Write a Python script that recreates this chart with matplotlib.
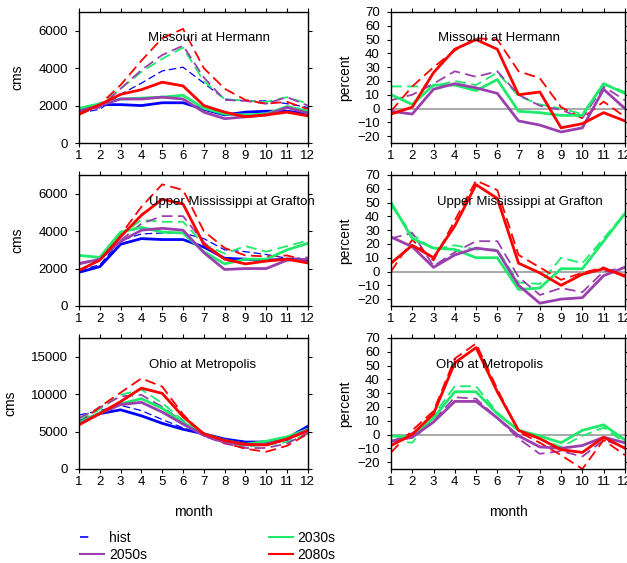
import matplotlib.pyplot as plt
from matplotlib.lines import Line2D

plt.rcParams['font.family'] = ['Liberation Sans', 'DejaVu Sans']
plt.rcParams['font.size'] = 10

months = list(range(1, 13))
periods = ['hist', '2030s', '2050s', '2080s']
colors = {'hist': '#0000ff', '2030s': '#1eeb6b', '2050s': '#9b3fae', '2080s': '#ff0000'}

# Missouri at Hermann (cms) - solid / dashed
mo_hist = [1700, 2050, 2050, 2000, 2150, 2150, 1800, 1500, 1650, 1700, 1700, 1550]
mo_hist_d = [1600, 1800, 2600, 3200, 3850, 4050, 3200, 2350, 2250, 2250, 2100, 1900]
mo_2030 = [1850, 2100, 2350, 2400, 2450, 2550, 1850, 1550, 1500, 1550, 1950, 1700]
mo_2030_d = [1700, 2000, 2900, 3800, 4500, 5100, 3300, 2350, 2250, 2200, 2450, 2100]
mo_2050 = [1700, 2000, 2350, 2350, 2450, 2350, 1650, 1300, 1400, 1500, 1900, 1600]
mo_2050_d = [1600, 1900, 2900, 3900, 4700, 5200, 3500, 2300, 2250, 2100, 2450, 2000]
mo_2080 = [1550, 2050, 2600, 2850, 3250, 3050, 2000, 1650, 1400, 1500, 1650, 1450]
mo_2080_d = [1500, 2050, 3100, 4400, 5600, 6100, 4000, 2900, 2300, 2100, 2200, 1800]

# Missouri at Hermann (percent change)
mo_p2030 = [10, 3, 17, 17, 13, 21, -2, -3, -5, -5, 18, 11]
mo_p2030_d = [16, 16, 16, 20, 17, 26, 9, 3, 0, -4, 18, 12]
mo_p2050 = [-2, -4, 14, 18, 15, 11, -9, -12, -17, -14, 14, 0]
mo_p2050_d = [6, 10, 18, 27, 23, 27, 10, 2, -1, -7, 16, 6]
mo_p2080 = [-4, 1, 26, 43, 50, 43, 10, 12, -14, -11, -3, -9]
mo_p2080_d = [-2, 16, 30, 42, 51, 50, 27, 22, 1, -7, 5, -6]

# Upper Mississippi at Grafton (cms)
um_hist = [1800, 2100, 3300, 3600, 3550, 3550, 3150, 2550, 2500, 2450, 2500, 2450]
um_hist_d = [1900, 2200, 3500, 3850, 3900, 3900, 3600, 3000, 2900, 2750, 2550, 2500]
um_2030 = [2700, 2600, 3950, 4200, 3950, 3900, 2900, 2250, 2500, 2500, 3000, 3350]
um_2030_d = [2700, 2600, 3800, 4600, 4500, 4500, 3300, 2800, 3200, 2900, 3200, 3500]
um_2050 = [2250, 2500, 3450, 4050, 4150, 4050, 2850, 1950, 2000, 2000, 2450, 2500]
um_2050_d = [2300, 2500, 3500, 4400, 4800, 4800, 3400, 2500, 2500, 2400, 2500, 2600]
um_2080 = [1900, 2450, 3700, 4850, 5700, 5450, 3300, 2500, 2250, 2400, 2500, 2300]
um_2080_d = [1850, 2500, 3800, 5300, 6500, 6200, 4000, 3100, 2700, 2650, 2700, 2400]

# Upper Mississippi at Grafton (percent change)
um_p2030 = [50, 24, 17, 16, 10, 10, -13, -12, 2, 2, 22, 42]
um_p2030_d = [48, 27, 16, 19, 16, 16, -8, -9, 10, 6, 24, 42]
um_p2050 = [25, 18, 3, 12, 17, 15, -10, -23, -20, -19, -3, 3]
um_p2050_d = [24, 28, 4, 14, 22, 22, -4, -17, -12, -15, 0, 3]
um_p2080 = [6, 19, 10, 33, 63, 53, 6, -1, -10, -2, 2, -3]
um_p2080_d = [0, 23, 8, 37, 66, 59, 12, 3, -6, -1, 3, -4]

# Ohio at Metropolis (cms)
oh_hist = [6300, 7400, 7900, 7100, 6100, 5300, 4700, 4000, 3600, 3600, 4100, 5700]
oh_hist_d = [7200, 7800, 8500, 7800, 6600, 5500, 4600, 3800, 3400, 3300, 3800, 5300]
oh_2030 = [6200, 7500, 8700, 9400, 8100, 6200, 4700, 3800, 3300, 3700, 4300, 5300]
oh_2030_d = [6500, 8000, 9900, 10600, 8800, 6500, 4700, 3700, 3000, 3200, 3600, 4700]
oh_2050 = [6000, 7400, 8600, 8900, 7600, 6000, 4500, 3600, 3200, 3300, 4000, 5200]
oh_2050_d = [6800, 8200, 9700, 9900, 8300, 6300, 4400, 3400, 2800, 2800, 3400, 4800]
oh_2080 = [5900, 7400, 9000, 10800, 10100, 7000, 4700, 3800, 3300, 3200, 4000, 5100]
oh_2080_d = [6100, 8300, 10200, 12100, 11000, 7300, 4500, 3500, 2700, 2300, 3100, 4700]

# Ohio at Metropolis (percent change)
oh_p2030 = [-1, -2, 12, 31, 31, 15, 3, -1, -6, 3, 7, -4]
oh_p2030_d = [-4, -6, 14, 35, 35, 16, 3, -3, -9, -1, 5, -6]
oh_p2050 = [-5, -2, 9, 24, 24, 12, -1, -9, -10, -8, -2, -6]
oh_p2050_d = [-5, 1, 10, 27, 26, 12, -3, -14, -12, -16, -4, -9]
oh_p2080 = [-8, 0, 15, 52, 63, 31, 3, -3, -11, -13, -2, -10]
oh_p2080_d = [-13, 3, 17, 55, 66, 33, 2, -6, -15, -25, -4, -15]

titles = ['Missouri at Hermann', 'Upper Mississippi at Grafton', 'Ohio at Metropolis']

cms_panels = [
    {'hist': (mo_hist, mo_hist_d), '2030s': (mo_2030, mo_2030_d),
     '2050s': (mo_2050, mo_2050_d), '2080s': (mo_2080, mo_2080_d)},
    {'hist': (um_hist, um_hist_d), '2030s': (um_2030, um_2030_d),
     '2050s': (um_2050, um_2050_d), '2080s': (um_2080, um_2080_d)},
    {'hist': (oh_hist, oh_hist_d), '2030s': (oh_2030, oh_2030_d),
     '2050s': (oh_2050, oh_2050_d), '2080s': (oh_2080, oh_2080_d)},
]
pct_panels = [
    {'2030s': (mo_p2030, mo_p2030_d), '2050s': (mo_p2050, mo_p2050_d), '2080s': (mo_p2080, mo_p2080_d)},
    {'2030s': (um_p2030, um_p2030_d), '2050s': (um_p2050, um_p2050_d), '2080s': (um_p2080, um_p2080_d)},
    {'2030s': (oh_p2030, oh_p2030_d), '2050s': (oh_p2050, oh_p2050_d), '2080s': (oh_p2080, oh_p2080_d)},
]
cms_ylim = [(0, 7000), (0, 7000), (0, 17500)]
cms_ticks = [[0, 2000, 4000, 6000], [0, 2000, 4000, 6000], [0, 5000, 10000, 15000]]
title_pos_left = [(0.57, 0.80), (0.67, 0.79), (0.54, 0.79)]
title_pos_right = [(0.46, 0.80), (0.55, 0.79), (0.42, 0.79)]

fig = plt.figure(figsize=(6.27, 5.63), dpi=100)
row_y = [0.746, 0.4565, 0.167]
row_h = 0.2327


def style_axis(ax):
    ax.set_xlim(1, 12)
    ax.set_xticks(months)
    ax.tick_params(direction='out', length=3, width=0.8, top=True, right=True,
                   labelsize=9.5)
    ax.tick_params(axis='x', pad=2)
    ax.tick_params(axis='y', pad=5)
    for s in ax.spines.values():
        s.set_linewidth(1.0)


for i in range(3):
    axl = fig.add_axes([0.126, row_y[i], 0.365, row_h])
    for p in periods:
        solid, dashed = cms_panels[i][p]
        dlw = 0.9 if p == 'hist' else 1.3
        axl.plot(months, dashed, color=colors[p], lw=dlw, linestyle=(0, (6, 3)))
    for p in periods:
        solid, dashed = cms_panels[i][p]
        axl.plot(months, solid, color=colors[p], lw=2.0)
    axl.set_ylim(*cms_ylim[i])
    axl.set_yticks(cms_ticks[i])
    axl.set_ylabel('cms', labelpad=10)
    style_axis(axl)
    axl.text(*title_pos_left[i], titles[i], transform=axl.transAxes,
             ha='center', va='center', fontsize=9.5)

    axr = fig.add_axes([0.6236, row_y[i], 0.373, row_h])
    axr.axhline(0, color='#999999', lw=1.2)
    for p in ['2030s', '2050s', '2080s']:
        solid, dashed = pct_panels[i][p]
        axr.plot(months, dashed, color=colors[p], lw=1.3, linestyle=(0, (6, 3)))
    for p in ['2030s', '2050s', '2080s']:
        solid, dashed = pct_panels[i][p]
        axr.plot(months, solid, color=colors[p], lw=2.0)
    axr.set_ylim(-25, 70)
    axr.set_yticks(range(-20, 71, 10))
    axr.set_ylabel('percent', labelpad=4)
    style_axis(axr)
    axr.text(*title_pos_right[i], titles[i], transform=axr.transAxes,
             ha='center', va='center', fontsize=9.5)
    if i == 2:
        axl.set_xlabel('month', labelpad=12)
        axr.set_xlabel('month', labelpad=12)

handles = [
    Line2D([], [], color=colors['hist'], lw=1.2, dashes=(5, 20)),
    Line2D([], [], color=colors['2050s'], lw=1.5),
    Line2D([], [], color=colors['2030s'], lw=1.5),
    Line2D([], [], color=colors['2080s'], lw=1.5),
]
labels = ['hist', '2050s', '2030s', '2080s']
fig.legend(handles, labels, ncol=2, frameon=False, loc='upper left',
           bbox_to_anchor=(0.117, 0.07), handlelength=1.7, handletextpad=0.35,
           columnspacing=8.8, labelspacing=0.25, borderpad=0, fontsize=10)

fig.savefig('out.png', dpi=100)
